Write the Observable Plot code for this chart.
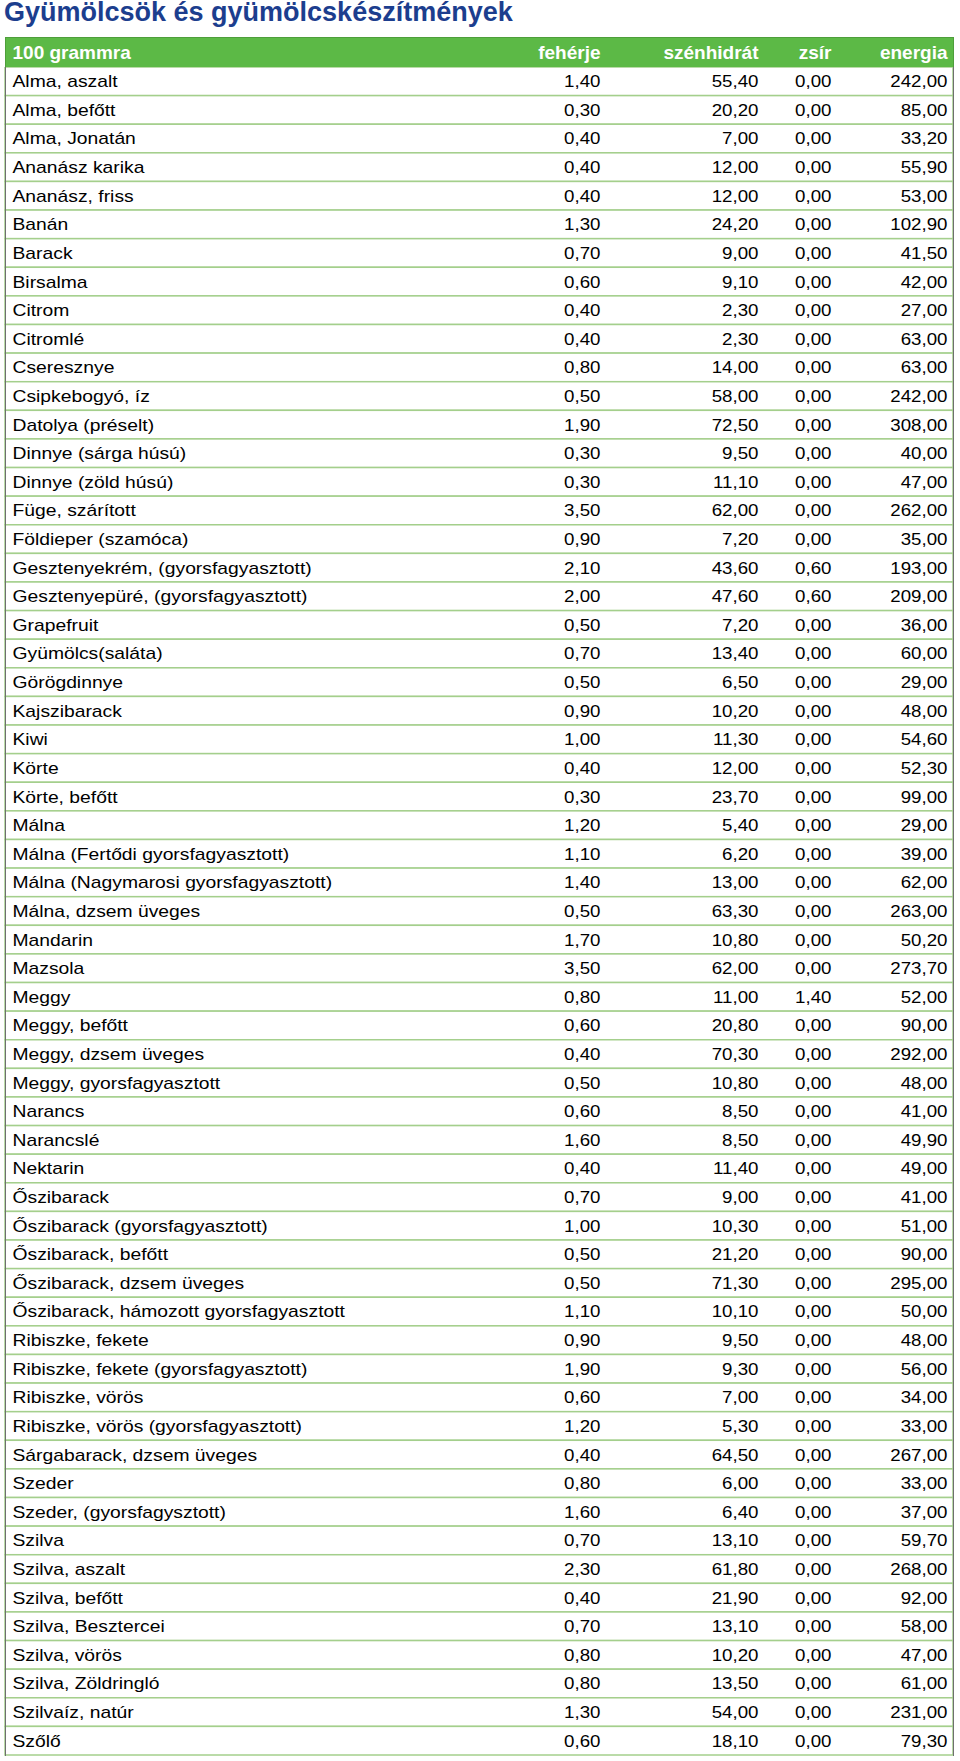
<!DOCTYPE html>
<html>
<head>
<meta charset="utf-8">
<script src="https://cdn.jsdelivr.net/npm/d3@7"></script>
<script src="https://cdn.jsdelivr.net/npm/@observablehq/plot@0.6"></script>
<style>
  html, body { margin: 0; padding: 0; background: #fff; }
  #title {
    height: 37px; padding-left: 4px; box-sizing: border-box;
    font: bold 27px "Liberation Sans", Arial, sans-serif; line-height: 25px;
    color: #1c3e8e; white-space: nowrap;
  }
  #head svg, #body svg { display: block; }
</style>
</head>
<body>
<div id="title">Gyümölcsök és gyümölcskészítmények</div>
<div id="head"></div>
<div id="body"></div>
<script>
// ---- data ----
const headers = ["100 grammra", "fehérje", "szénhidrát", "zsír", "energia"];
const names = [
  "Alma, aszalt", "Alma, befőtt", "Alma, Jonatán", "Ananász karika", "Ananász, friss",
  "Banán", "Barack", "Birsalma", "Citrom", "Citromlé", "Cseresznye", "Csipkebogyó, íz",
  "Datolya (préselt)", "Dinnye (sárga húsú)", "Dinnye (zöld húsú)", "Füge, szárított",
  "Földieper (szamóca)", "Gesztenyekrém, (gyorsfagyasztott)", "Gesztenyepüré, (gyorsfagyasztott)",
  "Grapefruit", "Gyümölcs(saláta)", "Görögdinnye", "Kajszibarack", "Kiwi", "Körte",
  "Körte, befőtt", "Málna", "Málna (Fertődi gyorsfagyasztott)", "Málna (Nagymarosi gyorsfagyasztott)",
  "Málna, dzsem üveges", "Mandarin", "Mazsola", "Meggy", "Meggy, befőtt", "Meggy, dzsem üveges",
  "Meggy, gyorsfagyasztott", "Narancs", "Narancslé", "Nektarin", "Őszibarack",
  "Őszibarack (gyorsfagyasztott)", "Őszibarack, befőtt", "Őszibarack, dzsem üveges",
  "Őszibarack, hámozott gyorsfagyasztott", "Ribiszke, fekete", "Ribiszke, fekete (gyorsfagyasztott)",
  "Ribiszke, vörös", "Ribiszke, vörös (gyorsfagyasztott)", "Sárgabarack, dzsem üveges", "Szeder",
  "Szeder, (gyorsfagysztott)", "Szilva", "Szilva, aszalt", "Szilva, befőtt", "Szilva, Besztercei",
  "Szilva, vörös", "Szilva, Zöldringló", "Szilvaíz, natúr", "Szőlő"
];
const feherje = [1.40, 0.30, 0.40, 0.40, 0.40, 1.30, 0.70, 0.60, 0.40, 0.40, 0.80, 0.50,
  1.90, 0.30, 0.30, 3.50, 0.90, 2.10, 2.00, 0.50, 0.70, 0.50, 0.90, 1.00, 0.40,
  0.30, 1.20, 1.10, 1.40, 0.50, 1.70, 3.50, 0.80, 0.60, 0.40, 0.50, 0.60, 1.60, 0.40, 0.70,
  1.00, 0.50, 0.50, 1.10, 0.90, 1.90, 0.60, 1.20, 0.40, 0.80, 1.60, 0.70, 2.30, 0.40, 0.70,
  0.80, 0.80, 1.30, 0.60];
const szenhidrat = [55.40, 20.20, 7.00, 12.00, 12.00, 24.20, 9.00, 9.10, 2.30, 2.30, 14.00, 58.00,
  72.50, 9.50, 11.10, 62.00, 7.20, 43.60, 47.60, 7.20, 13.40, 6.50, 10.20, 11.30, 12.00,
  23.70, 5.40, 6.20, 13.00, 63.30, 10.80, 62.00, 11.00, 20.80, 70.30, 10.80, 8.50, 8.50, 11.40, 9.00,
  10.30, 21.20, 71.30, 10.10, 9.50, 9.30, 7.00, 5.30, 64.50, 6.00, 6.40, 13.10, 61.80, 21.90, 13.10,
  10.20, 13.50, 54.00, 18.10];
const zsir = [0, 0, 0, 0, 0, 0, 0, 0, 0, 0, 0, 0,
  0, 0, 0, 0, 0, 0.60, 0.60, 0, 0, 0, 0, 0, 0,
  0, 0, 0, 0, 0, 0, 0, 1.40, 0, 0, 0, 0, 0, 0, 0,
  0, 0, 0, 0, 0, 0, 0, 0, 0, 0, 0, 0, 0, 0, 0,
  0, 0, 0, 0];
const energia = [242.00, 85.00, 33.20, 55.90, 53.00, 102.90, 41.50, 42.00, 27.00, 63.00, 63.00, 242.00,
  308.00, 40.00, 47.00, 262.00, 35.00, 193.00, 209.00, 36.00, 60.00, 29.00, 48.00, 54.60, 52.30,
  99.00, 29.00, 39.00, 62.00, 263.00, 50.20, 273.70, 52.00, 90.00, 292.00, 48.00, 41.00, 49.90, 49.00, 41.00,
  51.00, 90.00, 295.00, 50.00, 48.00, 56.00, 34.00, 33.00, 267.00, 33.00, 37.00, 59.70, 268.00, 92.00, 58.00,
  47.00, 61.00, 231.00, 79.30];

// ---- build table ----
const numCols = headers.slice(1);
const rows = names.map((name, i) => ({
  name,
  "fehérje": feherje[i],
  "szénhidrát": szenhidrat[i],
  "zsír": zsir[i],
  "energia": energia[i]
}));
const fmt = v => v.toFixed(2).replace(".", ",");

// ---- layout (column anchors, px) ----
const W = 960;
const colX = { "100 grammra": 12, "fehérje": 600, "szénhidrát": 758, "zsír": 831, "energia": 947 };
const font = '"Liberation Sans", Arial, sans-serif';
const green = "#5cb946";
const lineGreen = "#a4cf8c";
const stretchName = 1.135; // the reference's body type is slightly wide
const stretchNum = 1.1;

// header strip
const head = Plot.plot({
  width: W, height: 30,
  marginLeft: 5, marginRight: 7, marginTop: 0, marginBottom: 0,
  style: { fontFamily: font, background: "transparent" },
  x: { type: "identity", axis: null },
  marks: [
    Plot.frame({ fill: green, stroke: "#4e9e3b" }),
    Plot.text([headers[0]], { x: d => colX[d], frameAnchor: "middle", text: d => d,
      textAnchor: "start", fill: "white", fontWeight: "bold", fontSize: 19 }),
    Plot.text(numCols, { x: d => colX[d], frameAnchor: "middle", text: d => d,
      textAnchor: "end", fill: "white", fontWeight: "bold", fontSize: 19 })
  ]
});
document.getElementById("head").appendChild(head);

// body
const bodyMarks = [
  Plot.cell(rows, { y: "name", fill: "white", stroke: lineGreen, strokeWidth: 1.5, inset: 0 }),
  Plot.frame({ stroke: "#6f6f6f", anchor: "left" }),
  Plot.frame({ stroke: "#6f6f6f", anchor: "right" }),
  Plot.text(rows, { x: () => colX["100 grammra"], y: "name", text: "name",
    textAnchor: "start", fill: "#000", fontSize: 17, className: "nm" })
];
for (const c of numCols) {
  bodyMarks.push(Plot.text(rows, { x: () => colX[c], y: "name", text: d => fmt(d[c]),
    textAnchor: "end", fill: "#000", fontSize: 17 }));
}
const body = Plot.plot({
  width: W, height: 1694,
  marginLeft: 5, marginRight: 7, marginTop: 0, marginBottom: 6,
  style: { fontFamily: font, background: "transparent" },
  x: { type: "identity", axis: null },
  y: { type: "band", domain: names, padding: 0, axis: null },
  marks: bodyMarks
});
document.getElementById("body").appendChild(body);

// widen the body glyphs a little, like the reference's type
for (const t of body.querySelectorAll("text")) {
  const w = t.getComputedTextLength();
  if (w > 0) {
    const isName = t.getAttribute("text-anchor") === "start" ||
      (t.parentNode && t.parentNode.getAttribute("text-anchor") === "start");
    t.setAttribute("textLength", (w * (isName ? stretchName : stretchNum)).toFixed(2));
    t.setAttribute("lengthAdjust", "spacingAndGlyphs");
  }
}
</script>
</body>
</html>
